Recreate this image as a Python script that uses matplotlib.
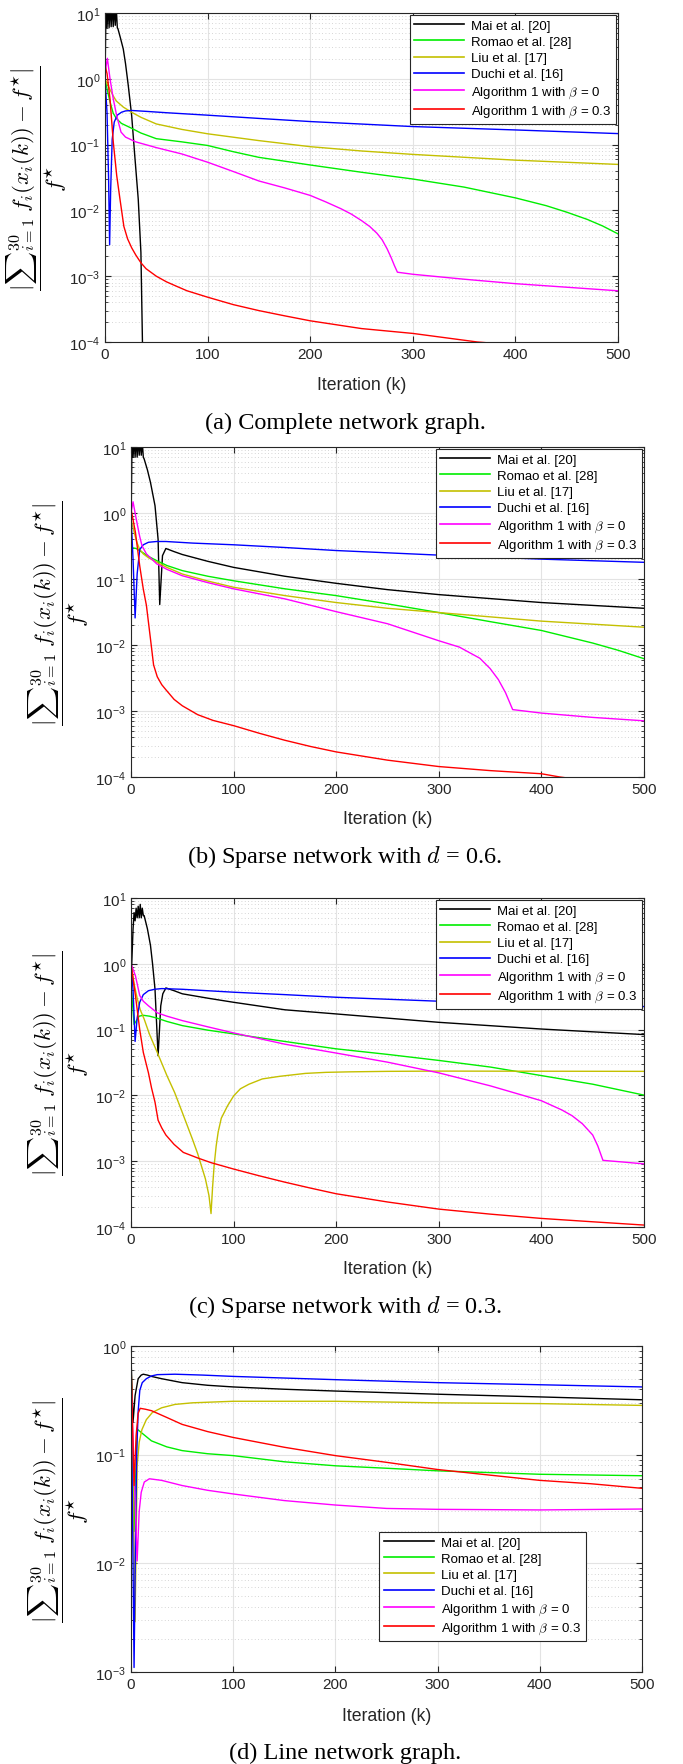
import numpy as np
import matplotlib
matplotlib.use('Agg')
import matplotlib.pyplot as plt
from matplotlib.ticker import LogLocator, NullFormatter, FixedLocator

plt.rcParams['font.family'] = ['Liberation Sans', 'DejaVu Sans']
plt.rcParams['mathtext.fontset'] = 'custom'
plt.rcParams['mathtext.rm'] = 'Liberation Sans'
plt.rcParams['mathtext.it'] = 'Liberation Sans:italic'

labels = ['Mai et al. [20]', 'Romao et al. [28]', 'Liu et al. [17]',
          'Duchi et al. [16]', r'Algorithm 1 with $\beta$ = 0',
          r'Algorithm 1 with $\beta$ = 0.3']
colors = ['#000000', '#00ee00', '#c4c000', '#0000ff', '#ff00ff', '#ff0000']
captions = ['(a) Complete network graph.',
            r'(b) Sparse network with $d$ = 0.6.',
            r'(c) Sparse network with $d$ = 0.3.',
            '(d) Line network graph.']

# ---- (a) complete graph ----
a_mai_k = [0, 1, 2, 3, 4, 5, 6, 7, 8, 9, 10, 11, 12, 12.7, 15, 17.8, 20, 22.7, 26, 29, 32.4, 35, 36.5, 37.5]
a_mai_v = [0.9, 14, 6, 14, 6, 14, 6.2, 14, 6.2, 13, 6.5, 12, 6, 5.7, 4.2, 2.84, 1.7, 0.785, 0.275, 0.068, 0.0148, 0.0023, 1e-4, 1e-5]
a_rom_k = [0, 2, 5, 8, 11, 16, 25, 35, 50, 75, 100, 125, 150, 200, 250, 300, 350, 400, 430, 450, 470, 485, 500]
a_rom_v = [1.0, 0.7, 0.44, 0.3, 0.25, 0.21, 0.18, 0.15, 0.123, 0.11, 0.097, 0.078, 0.064, 0.049, 0.038, 0.030, 0.0226, 0.0155, 0.0118, 0.0094, 0.0073, 0.0058, 0.0044]
a_liu_k = [0, 2, 5, 8, 11, 18, 26, 35, 50, 75, 100, 150, 200, 250, 300, 400, 500]
a_liu_v = [1.0, 0.85, 0.68, 0.55, 0.46, 0.37, 0.31, 0.26, 0.206, 0.17, 0.146, 0.115, 0.093, 0.08, 0.071, 0.058, 0.050]
a_duc_k = [0, 2, 3.5, 4.5, 5.5, 7, 9, 12, 16, 20, 26, 40, 60, 100, 150, 200, 300, 400, 500]
a_duc_v = [1.0, 0.3, 0.03, 0.003, 0.02, 0.12, 0.22, 0.28, 0.31, 0.325, 0.33, 0.32, 0.305, 0.28, 0.25, 0.224, 0.188, 0.167, 0.147]
a_b0_k = [0, 2.3, 4.9, 8.1, 11.4, 15.6, 20, 30, 50, 75, 100, 125, 150, 175, 200, 215, 230, 240, 250, 258, 265, 270, 275, 279, 282, 285, 300, 350, 400, 450, 500]
a_b0_v = [1.2, 2.05, 1.0, 0.49, 0.275, 0.155, 0.13, 0.11, 0.09, 0.072, 0.054, 0.039, 0.028, 0.022, 0.0169, 0.0135, 0.0106, 0.0088, 0.0070, 0.0057, 0.0045, 0.0036, 0.0026, 0.0019, 0.00146, 0.00115, 0.00107, 0.0009, 0.00077, 0.00068, 0.0006]
a_b3_k = [0, 2, 4.9, 8.1, 11.4, 14.6, 18.4, 22, 26, 30, 35, 40, 50, 60, 70, 80, 100, 125, 150, 175, 200, 250, 300, 363, 400]
a_b3_v = [1.6, 1.2, 0.49, 0.108, 0.034, 0.0148, 0.0057, 0.0037, 0.0027, 0.0021, 0.0016, 0.0013, 0.001, 0.00082, 0.0007, 0.0006, 0.00048, 0.00037, 0.0003, 0.00025, 0.00021, 0.00016, 0.000135, 0.0001, 0.00009]

# ---- (b) sparse d = 0.6 ----
b_mai_k = [0, 1, 2, 3, 4, 5, 6, 7, 8, 9, 10, 11, 12, 12.8, 16, 19, 23.4, 26.4, 28, 30.7, 34, 42, 50, 75, 100, 150, 200, 250, 300, 400, 500]
b_mai_v = [0.5, 14, 7, 14, 7, 14, 7, 14, 7.5, 13, 7.5, 12, 7, 6.6, 4.5, 2.9, 1.29, 0.4, 0.041, 0.226, 0.29, 0.26, 0.235, 0.185, 0.15, 0.11, 0.086, 0.069, 0.058, 0.044, 0.036]
b_rom_k = [0, 5, 10, 17, 25, 35, 50, 75, 100, 150, 200, 250, 300, 350, 400, 450, 475, 500]
b_rom_v = [0.3, 0.29, 0.26, 0.22, 0.19, 0.16, 0.134, 0.11, 0.094, 0.071, 0.056, 0.042, 0.031, 0.0226, 0.0166, 0.0107, 0.0083, 0.0062]
b_liu_k = [0, 2, 4, 6, 8.5, 12, 17, 25, 35, 50, 75, 100, 150, 200, 250, 300, 400, 500]
b_liu_v = [0.8, 0.6, 0.45, 0.35, 0.28, 0.24, 0.21, 0.18, 0.15, 0.119, 0.093, 0.075, 0.056, 0.044, 0.036, 0.031, 0.023, 0.0186]
b_duc_k = [0, 2, 4, 6, 8.5, 12, 17, 25, 34, 60, 100, 150, 200, 300, 400, 500]
b_duc_v = [0.91, 0.2, 0.0257, 0.12, 0.28, 0.33, 0.36, 0.37, 0.37, 0.35, 0.33, 0.3, 0.27, 0.23, 0.2, 0.179]
b_b0_k = [0, 2, 4, 6.4, 8.5, 10.7, 15, 25, 35, 50, 75, 100, 150, 200, 250, 300, 320, 340, 350, 358, 365, 372, 400, 450, 500]
b_b0_v = [1.0, 1.48, 1.0, 0.64, 0.44, 0.32, 0.24, 0.17, 0.14, 0.112, 0.088, 0.071, 0.05, 0.032, 0.021, 0.0116, 0.0093, 0.0063, 0.0044, 0.003, 0.0019, 0.00105, 0.00093, 0.0008, 0.00071]
b_b3_k = [0, 4.3, 8.5, 12, 15, 19, 22, 25.6, 30, 34, 42, 50, 65, 80, 100, 125, 150, 175, 200, 250, 300, 350, 400, 418, 440]
b_b3_v = [1.15, 0.51, 0.158, 0.07, 0.04, 0.0123, 0.005, 0.0033, 0.0025, 0.0021, 0.0015, 0.0012, 0.00088, 0.00072, 0.0006, 0.00046, 0.00036, 0.00029, 0.00024, 0.00018, 0.000144, 0.000125, 0.000112, 0.0001, 0.00009]

# ---- (c) sparse d = 0.3 ----
c_mai_k = [0, 2, 3, 4, 5, 6, 7, 8, 9, 10, 11, 12, 12.8, 16, 19, 21, 23.4, 26.4, 29, 31, 34, 42, 50, 75, 100, 150, 200, 300, 400, 500]
c_mai_v = [0.5, 3.4, 6, 4.5, 7, 5, 7.5, 5, 8, 5, 7, 5.4, 5.4, 3.4, 1.9, 1.0, 0.41, 0.04, 0.23, 0.35, 0.43, 0.39, 0.35, 0.3, 0.26, 0.2, 0.173, 0.129, 0.102, 0.084]
c_rom_k = [0, 3, 8, 12, 18, 25, 35, 50, 75, 100, 150, 200, 250, 300, 350, 400, 450, 500]
c_rom_v = [0.5, 0.12, 0.16, 0.165, 0.16, 0.15, 0.133, 0.115, 0.098, 0.086, 0.066, 0.051, 0.042, 0.034, 0.027, 0.020, 0.0148, 0.0101]
c_liu_k = [0, 3, 6, 9, 12.8, 18, 25.6, 35, 42.6, 50, 59.7, 65, 72.5, 76, 78, 79.5, 81, 83, 85, 88, 94, 100, 106.6, 115, 128, 145, 170, 190, 213, 250, 300, 500]
c_liu_v = [1.0, 0.5, 0.3, 0.2, 0.145, 0.085, 0.045, 0.02, 0.011, 0.0055, 0.0022, 0.0013, 0.00054, 0.0003, 0.00016, 0.0004, 0.00085, 0.0017, 0.0028, 0.0045, 0.0069, 0.0098, 0.0126, 0.0148, 0.0178, 0.0195, 0.0216, 0.0224, 0.0228, 0.0232, 0.0234, 0.0232]
c_duc_k = [0, 2, 4, 6, 8.5, 12, 17, 23, 30, 50, 100, 150, 200, 300, 400, 500]
c_duc_v = [1.0, 0.4, 0.066, 0.15, 0.26, 0.34, 0.39, 0.41, 0.42, 0.41, 0.37, 0.34, 0.31, 0.27, 0.245, 0.224]
c_b0_k = [0, 4.3, 8.5, 12, 17, 25.6, 35, 50, 75, 100, 150, 200, 250, 300, 350, 400, 420, 430, 440, 450, 455, 460, 480, 500]
c_b0_v = [1.0, 0.66, 0.33, 0.27, 0.23, 0.18, 0.16, 0.137, 0.11, 0.089, 0.06, 0.044, 0.032, 0.022, 0.014, 0.0083, 0.006, 0.0049, 0.0037, 0.0025, 0.0017, 0.00103, 0.00097, 0.00091]
c_b3_k = [0, 4.3, 8.5, 12, 17, 20, 23.4, 26.4, 30, 34, 42, 51, 65, 78, 100, 125, 150, 175, 200, 250, 300, 350, 400, 450, 500]
c_b3_v = [1.0, 0.33, 0.1, 0.045, 0.022, 0.013, 0.0079, 0.0042, 0.0032, 0.0025, 0.0018, 0.00136, 0.00112, 0.00095, 0.00076, 0.0006, 0.00048, 0.00039, 0.00032, 0.00024, 0.000187, 0.000157, 0.000135, 0.00012, 0.000107]

# ---- (d) line graph ----
d_mai_k = [0, 2, 4, 7, 10, 12, 16, 20, 30, 50, 75, 100, 150, 200, 300, 400, 500]
d_mai_v = [0.8, 0.2, 0.35, 0.5, 0.54, 0.55, 0.54, 0.525, 0.5, 0.46, 0.435, 0.42, 0.4, 0.385, 0.36, 0.34, 0.32]
d_rom_k = [0, 3, 6, 10, 20, 35, 50, 75, 100, 150, 200, 250, 300, 400, 500]
d_rom_v = [0.6, 0.02, 0.172, 0.16, 0.134, 0.118, 0.109, 0.102, 0.098, 0.086, 0.079, 0.075, 0.071, 0.066, 0.064]
d_liu_k = [0, 4, 6, 8, 10.7, 15, 21, 30, 43, 60, 100, 200, 300, 400, 500]
d_liu_v = [0.87, 0.0029, 0.079, 0.13, 0.17, 0.21, 0.245, 0.27, 0.29, 0.3, 0.31, 0.31, 0.30, 0.295, 0.284]
d_duc_k = [0, 3, 4.5, 5.6, 7, 8.6, 11, 15, 20, 25.7, 43, 70, 100, 200, 300, 400, 500]
d_duc_v = [0.7, 0.0011, 0.02, 0.105, 0.25, 0.39, 0.46, 0.5, 0.53, 0.545, 0.55, 0.54, 0.525, 0.49, 0.46, 0.44, 0.42]
d_b0_k = [0, 6, 8, 10, 13, 18, 30, 50, 75, 100, 150, 200, 250, 300, 400, 500]
d_b0_v = [0.5, 0.0105, 0.03, 0.045, 0.056, 0.06, 0.058, 0.052, 0.047, 0.0435, 0.0378, 0.0344, 0.032, 0.0314, 0.031, 0.0316]
d_b3_k = [0, 3, 5, 7, 9, 14, 20, 35, 50, 75, 100, 150, 200, 250, 300, 350, 400, 450, 500]
d_b3_v = [0.7, 0.052, 0.15, 0.24, 0.267, 0.262, 0.254, 0.22, 0.19, 0.163, 0.144, 0.117, 0.098, 0.085, 0.073, 0.065, 0.058, 0.054, 0.049]

panels = [
    [(a_mai_k, a_mai_v), (a_rom_k, a_rom_v), (a_liu_k, a_liu_v),
     (a_duc_k, a_duc_v), (a_b0_k, a_b0_v), (a_b3_k, a_b3_v)],
    [(b_mai_k, b_mai_v), (b_rom_k, b_rom_v), (b_liu_k, b_liu_v),
     (b_duc_k, b_duc_v), (b_b0_k, b_b0_v), (b_b3_k, b_b3_v)],
    [(c_mai_k, c_mai_v), (c_rom_k, c_rom_v), (c_liu_k, c_liu_v),
     (c_duc_k, c_duc_v), (c_b0_k, c_b0_v), (c_b3_k, c_b3_v)],
    [(d_mai_k, d_mai_v), (d_rom_k, d_rom_v), (d_liu_k, d_liu_v),
     (d_duc_k, d_duc_v), (d_b0_k, d_b0_v), (d_b3_k, d_b3_v)],
]
ylims = [(1e-4, 10), (1e-4, 10), (1e-4, 10), (1e-3, 1)]

# pixel boxes: left, right, top, bottom
W, H = 683, 1765
boxes = [(105, 618, 14, 343), (131, 644, 448, 778),
         (131, 644, 899, 1228), (131, 642, 1347, 1673)]
ylab_x = [37, 59, 59, 59]
xlab_y = [385, 820, 1270, 1717]
cap_y = [423, 857, 1307, 1753]
ylabel = r'$\dfrac{|{\sum}_{i=1}^{30}\; f_i(x_i(k)) - f^{\star}|}{f^{\star}}$'
axcol = '#262626'

fig = plt.figure(figsize=(W / 100, H / 100), dpi=100)

for p in range(4):
    l, r, t, b = boxes[p]
    ax = fig.add_axes([l / W, 1 - b / H, (r - l) / W, (b - t) / H])
    for j in range(6):
        k, v = panels[p][j]
        ax.semilogy(k, v, color=colors[j], lw=1.0, label=labels[j])
    ax.set_xlim(0, 500)
    ax.set_ylim(*ylims[p])
    ax.xaxis.set_major_locator(FixedLocator([0, 100, 200, 300, 400, 500]))
    ax.yaxis.set_major_locator(LogLocator(base=10, numticks=10))
    ax.yaxis.set_minor_locator(LogLocator(base=10, subs=np.arange(2, 10), numticks=10))
    ax.yaxis.set_minor_formatter(NullFormatter())
    ax.grid(True, which='major', color='#e3e3e3', lw=0.8, ls='-')
    ax.grid(True, which='minor', axis='y', color='#c8c8c8', lw=0.6, ls=(0, (1, 3)))
    ax.set_axisbelow(True)
    ax.tick_params(which='both', direction='in', top=True, right=True,
                   colors=axcol, labelsize=11, labelcolor=axcol)
    ax.tick_params(which='major', length=4)
    ax.tick_params(which='minor', length=2)
    for s in ax.spines.values():
        s.set_color(axcol)
        s.set_linewidth(0.8)
    fig.text((l + r) / 2 / W, 1 - xlab_y[p] / H, 'Iteration (k)', ha='center',
             va='center', fontsize=12.7, color=axcol)
    fig.text(ylab_x[p] / W, 1 - (t + b) / 2 / H, ylabel, rotation=90,
             ha='center', va='center', fontsize=16.5, math_fontfamily='cm')
    fig.text(345 / W, 1 - cap_y[p] / H, captions[p], ha='center', va='center',
             fontsize=17.5, family='Liberation Serif', math_fontfamily='cm')
    if p < 3:
        anchor = (1.0, 1.0)
    else:
        anchor = (0.894, 0.436)
    leg = ax.legend(loc='upper right', bbox_to_anchor=anchor, fontsize=9.5,
                    handlelength=3.8, labelspacing=0.3, borderpad=0.35,
                    handletextpad=0.5, borderaxespad=0.15, fancybox=False,
                    framealpha=1.0)
    leg.get_frame().set_edgecolor(axcol)
    leg.get_frame().set_linewidth(0.8)
    for txt in leg.get_texts():
        txt.set_math_fontfamily('cm')
    for ln in leg.get_lines():
        ln.set_linewidth(1.2)

fig.savefig('out.png', dpi=100)
